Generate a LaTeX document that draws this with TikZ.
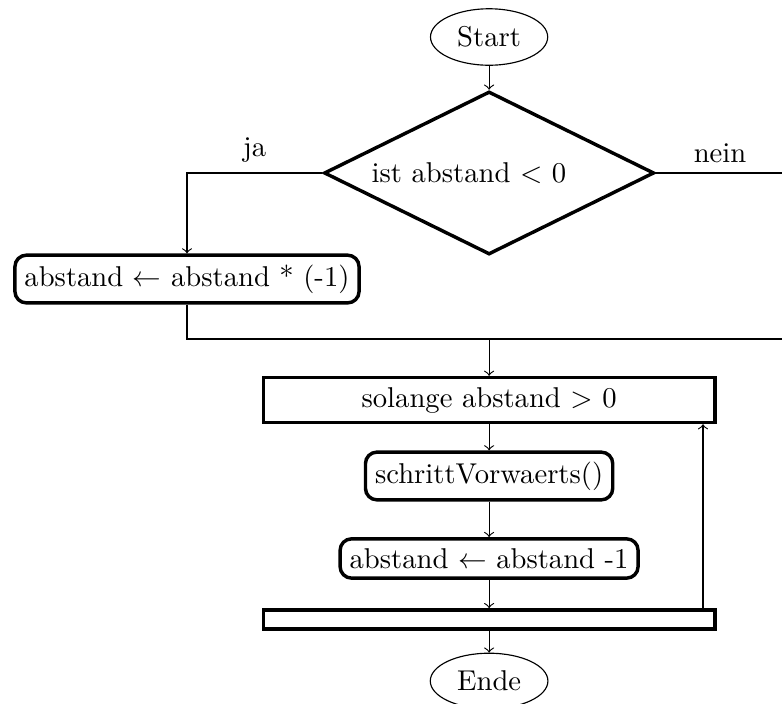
\documentclass[tikz,border=0pt]{standalone}
\usepackage{amsmath}
\usepackage{amssymb}
\usepackage{tikz}
\usetikzlibrary{arrows,shapes,positioning}
\tikzstyle{startstop} = [ellipse, draw]
\tikzstyle{decision} = [diamond, draw, very thick, shape aspect=2, inner sep=0pt, minimum width=4.05cm, minimum height=2cm, text width=2.88cm, align=left]
\tikzstyle{process} = [rectangle, rounded corners, draw, very thick]
\tikzstyle{loopbar} = [rectangle, draw, very thick, minimum width=5.54cm]
\tikzstyle{arrow} = [->]

\begin{document}
\begin{tikzpicture}
\useasboundingbox (0,0) rectangle (9.593,-8.636);

% Start und Entscheidung
\node[startstop] (start) at (6,-0.454) {Start};
\node[decision] (dec) at (6,-2.122) {ist abstand $<$ 0};
\node[process] (neg) at (2.294,-3.423) {abstand $\leftarrow$ abstand * (-1)};
\coordinate (rechts) at (9.62,-2.122);
\coordinate (join) at (6,-4.159);

% Schleife
\node[loopbar] (loop) at (6,-4.907) {solange abstand $>$ 0};
\node[process] (schritt) at (6,-5.839) {schrittVorwaerts()};
\node[process] (dec1) at (6,-6.851) {abstand $\leftarrow$ abstand -1};
\node[loopbar] (bar) at (6,-7.599) {};
\node[startstop] (ende) at (6,-8.354) {Ende};
\coordinate (back) at (8.624,-7.6);

% Verbindungen
\draw[arrow] (start) -- (dec);
\draw[arrow] (dec.west) -| node[pos=0.25, above] {ja} (neg.north);
\draw (dec.east) -- node[above] {nein} (rechts) |- (join);
\draw (neg.south) |- (join);
\draw[arrow] (join) -- (loop.north);
\draw[arrow] (loop) -- (schritt);
\draw[arrow] (schritt) -- (dec1);
\draw[arrow] (dec1) -- (bar);
\draw[arrow] (back |- bar.north) -- (back |- loop.south);
\draw[arrow] (bar) -- (ende);
\end{tikzpicture}
\end{document}
